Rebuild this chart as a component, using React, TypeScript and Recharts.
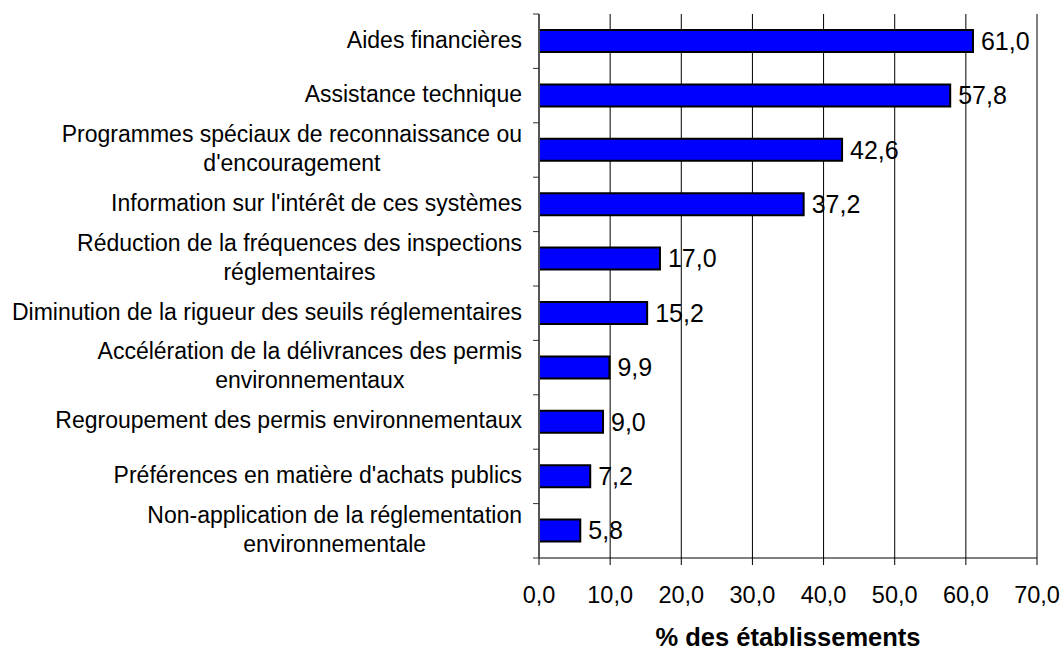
import React from "react";
import {
  BarChart,
  Bar,
  XAxis,
  YAxis,
  CartesianGrid,
  LabelList,
} from "recharts";

// categories, top to bottom, with the line breaks of the original
const categories = [
  "Aides financières",
  "Assistance technique",
  "Programmes spéciaux de reconnaissance ou\nd'encouragement",
  "Information sur l'intérêt de ces systèmes",
  "Réduction de la fréquences des inspections\nréglementaires",
  "Diminution de la rigueur des seuils réglementaires",
  "Accélération de la délivrances des permis\nenvironnementaux",
  "Regroupement des permis environnementaux",
  "Préférences en matière d'achats publics",
  "Non-application de la réglementation\nenvironnementale",
];

const values = [61.0, 57.8, 42.6, 37.2, 17.0, 15.2, 9.9, 9.0, 7.2, 5.8];

const xTicks = [0, 10, 20, 30, 40, 50, 60, 70];

const data = categories.map((name, i) => ({ name, value: values[i] }));

const W = 1064;
const H = 651;
const MARGIN = { top: 14, right: 27, bottom: 0, left: 0 };
const X_AXIS_H = 93;
const Y_AXIS_W = 539;
const TICK_MARGIN = 11;
// height of one category band, for the Excel-style ticks between categories
const BAND = (H - MARGIN.top - MARGIN.bottom - X_AXIS_H) / categories.length;

const FONT = "'Liberation Sans', Arial, sans-serif";
const LABEL_SIZE = 23;
const fmt = (v: number) => v.toFixed(1).replace(".", ",");

let ctx: CanvasRenderingContext2D | null = null;
const textWidth = (s: string) => {
  if (!ctx) ctx = document.createElement("canvas").getContext("2d");
  if (!ctx) return s.length * LABEL_SIZE * 0.5;
  ctx.font = `${LABEL_SIZE}px ${FONT}`;
  return ctx.measureText(s).width;
};

// wrapped category label: block right aligned, lines centred in the block
const CategoryTick = (props: any) => {
  const { x, y, payload, index } = props;
  const lines = String(payload.value).split("\n");
  const lh = 29;
  const start = y - ((lines.length - 1) * lh) / 2 + 6.3;
  const axisX = x + 6 + TICK_MARGIN;
  const blockW = Math.max(...lines.map(textWidth));
  const multi = lines.length > 1;
  const tx = multi ? x - blockW / 2 : x;
  return (
    <g>
      <line x1={axisX - 6} x2={axisX} y1={y - BAND / 2} y2={y - BAND / 2} stroke="#333" />
      {index === categories.length - 1 && (
        <line x1={axisX - 6} x2={axisX} y1={y + BAND / 2} y2={y + BAND / 2} stroke="#333" />
      )}
      <text
        textAnchor={multi ? "middle" : "end"}
        fontFamily={FONT}
        fontSize={LABEL_SIZE}
        fill="#000"
      >
        {lines.map((l, i) => (
          <tspan key={i} x={tx} y={start + i * lh}>
            {l}
          </tspan>
        ))}
      </text>
    </g>
  );
};

export default function App() {
  return (
    <div style={{ position: "absolute", left: 0, top: 0, background: "#fff" }}>
      <BarChart
        width={W}
        height={H}
        data={data}
        layout="vertical"
        margin={MARGIN}
      >
        <CartesianGrid horizontal={false} stroke="#000" strokeWidth={1} />
        <XAxis
          type="number"
          domain={[0, 70]}
          ticks={xTicks}
          tickFormatter={fmt}
          height={X_AXIS_H}
          stroke="#000"
          tickSize={7}
          tickMargin={21}
          tick={{ fill: "#000", fontSize: 23.5, fontFamily: FONT }}
          label={{
            value: "% des établissements",
            position: "insideBottom",
            offset: 5,
            fill: "#000",
            fontSize: 25.5,
            fontWeight: "bold",
            fontFamily: FONT,
          }}
        />
        <XAxis
          xAxisId="top"
          orientation="top"
          type="number"
          domain={[0, 70]}
          height={0}
          tick={false}
          tickLine={false}
          axisLine={{ stroke: "#808080", strokeWidth: 2 }}
        />
        <YAxis
          yAxisId="cat"
          type="category"
          dataKey="name"
          width={Y_AXIS_W}
          tickLine={false}
          tickMargin={TICK_MARGIN}
          interval={0}
          axisLine={{ stroke: "#555", strokeWidth: 2 }}
          tick={<CategoryTick />}
        />
        <YAxis
          yAxisId="right"
          orientation="right"
          type="number"
          domain={[0, 1]}
          width={0}
          tick={false}
          tickLine={false}
          axisLine={{ stroke: "#808080", strokeWidth: 2 }}
        />
        <Bar
          dataKey="value"
          yAxisId="cat"
          fill="#0000ff"
          stroke="#000"
          strokeWidth={2}
          barSize={22}
          isAnimationActive={false}
        >
          <LabelList
            dataKey="value"
            position="right"
            offset={8}
            formatter={(v: any) => fmt(Number(v))}
            fill="#000"
            fontSize={25}
            fontFamily={FONT}
          />
        </Bar>
      </BarChart>
    </div>
  );
}
